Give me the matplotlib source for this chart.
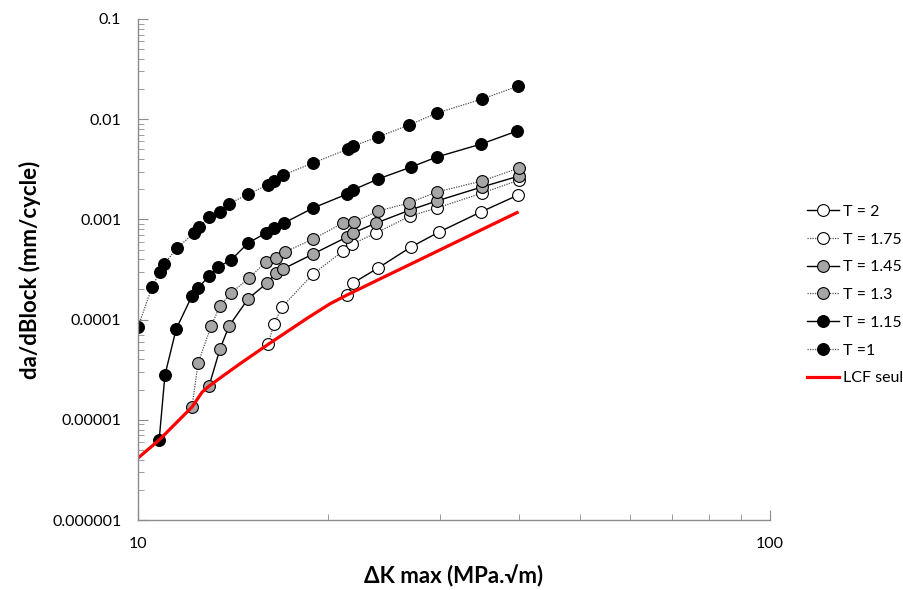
import matplotlib

matplotlib.use('Agg')
import matplotlib.pyplot as plt
from matplotlib.ticker import FuncFormatter, LogLocator, NullFormatter

plt.rcParams['font.family'] = ['Lato', 'DejaVu Sans']

# T = 2 (solid, white markers)
dk_t2 = [21.41, 21.89, 23.97, 27.04, 29.94, 34.90, 39.94]
da_t2 = [1.76e-4, 2.32e-4, 3.27e-4, 5.31e-4, 7.48e-4, 1.19e-3, 1.75e-3]

# T = 1.75 (dotted, white markers)
dk_t175 = [16.06, 16.41, 16.90, 18.92, 21.11, 21.81, 23.80, 26.94, 29.72, 35.03, 40.08]
da_t175 = [5.71e-5, 9.04e-5, 1.34e-4, 2.85e-4, 4.84e-4, 5.68e-4, 7.32e-4, 1.08e-3,
           1.30e-3, 1.83e-3, 2.47e-3]

# T = 1.45 (solid, grey markers)
dk_t145 = [12.95, 13.48, 13.93, 14.93, 16.00, 16.53, 16.96, 18.92, 21.41, 21.89,
           23.80, 26.94, 29.72, 35.03, 40.08]
da_t145 = [2.17e-5, 5.09e-5, 8.63e-5, 1.61e-4, 2.32e-4, 2.92e-4, 3.20e-4, 4.52e-4,
           6.67e-4, 7.32e-4, 9.20e-4, 1.24e-3, 1.53e-3, 2.11e-3, 2.71e-3]

# T = 1.3 (dotted, grey markers)
dk_t13 = [12.17, 12.45, 13.05, 13.48, 14.03, 14.98, 15.94, 16.53, 17.08, 18.92,
          21.11, 21.97, 23.97, 26.84, 29.72, 35.03, 40.08]
da_t13 = [1.34e-5, 3.69e-5, 8.63e-5, 1.37e-4, 1.84e-4, 2.60e-4, 3.76e-4, 4.12e-4,
          4.73e-4, 6.37e-4, 9.20e-4, 9.42e-4, 1.21e-3, 1.46e-3, 1.88e-3, 2.42e-3, 3.26e-3]

# T = 1.15 (solid, black markers)
dk_t115 = [10.80, 11.03, 11.49, 12.17, 12.45, 12.95, 13.39, 14.03, 14.93, 15.94,
           16.41, 17.02, 18.92, 21.41, 21.89, 23.97, 27.04, 29.72, 34.90, 39.79]
da_t115 = [6.29e-6, 2.80e-5, 8.05e-5, 1.72e-4, 2.07e-4, 2.72e-4, 3.35e-4, 3.93e-4,
           5.81e-4, 7.32e-4, 8.21e-4, 9.20e-4, 1.30e-3, 1.79e-3, 1.97e-3, 2.53e-3,
           3.33e-3, 4.20e-3, 5.65e-3, 7.62e-3]

# T = 1 (dotted, black markers)
dk_t1 = [10.0, 10.52, 10.83, 11.0, 11.53, 12.26, 12.49, 12.95, 13.48, 13.93, 14.93,
         16.06, 16.41, 16.96, 18.92, 21.49, 21.89, 23.97, 26.84, 29.72, 35.03, 39.94]
da_t1 = [8.43e-5, 2.11e-4, 2.99e-4, 3.59e-4, 5.19e-4, 7.32e-4, 8.40e-4, 1.057e-3,
         1.19e-3, 1.43e-3, 1.79e-3, 2.21e-3, 2.42e-3, 2.77e-3, 3.66e-3, 5.04e-3,
         5.40e-3, 6.65e-3, 8.75e-3, 1.153e-2, 1.59e-2, 2.14e-2]

# LCF seul
dk_lcf = [10.0, 10.80, 12.17, 12.63, 12.95, 13.70, 14.50, 16.06, 18.51, 20.13,
          21.41, 22.50, 24.15, 27.00, 30.00, 35.00, 39.79]
da_lcf = [4.16e-6, 6.29e-6, 1.34e-5, 1.89e-5, 2.17e-5, 2.81e-5, 3.63e-5, 5.66e-5,
          1.03e-4, 1.44e-4, 1.76e-4, 2.05e-4, 2.55e-4, 3.58e-4, 4.94e-4, 7.92e-4, 1.17e-3]

dot = (0, (1, 1))
series = [
    (dk_t2, da_t2, 'T = 2', '-', 'white'),
    (dk_t175, da_t175, 'T = 1.75', dot, 'white'),
    (dk_t145, da_t145, 'T = 1.45', '-', '#a6a6a6'),
    (dk_t13, da_t13, 'T = 1.3', dot, '#a6a6a6'),
    (dk_t115, da_t115, 'T = 1.15', '-', 'black'),
    (dk_t1, da_t1, 'T =1', dot, 'black'),
]

fig = plt.figure(figsize=(9.04, 5.90), dpi=100)
ax = fig.add_axes([0.1527, 0.1186, 0.6991, 0.8492])

for x, y, lab, ls, fc in series:
    lc = 'black' if ls == '-' else '#505050'
    ax.plot(x, y, linestyle=ls, color=lc, lw=1.0 if ls == '-' else 0.9,
            marker='o', markersize=8.5, markerfacecolor=fc,
            markeredgecolor='black', markeredgewidth=0.8, label=lab)

ax.plot(dk_lcf, da_lcf, color='#ff0000', lw=2.3, label='LCF seul')

ax.set_xscale('log')
ax.set_yscale('log')
ax.set_xlim(10, 100)
ax.set_ylim(1e-6, 0.1)

def dec_fmt(v, pos):
    s = '%.6f' % v
    s = s.rstrip('0').rstrip('.')
    return s

ax.yaxis.set_major_formatter(FuncFormatter(dec_fmt))
ax.xaxis.set_major_formatter(FuncFormatter(dec_fmt))
ax.yaxis.set_minor_locator(LogLocator(base=10, subs=range(2, 10), numticks=20))
ax.xaxis.set_minor_locator(LogLocator(base=10, subs=range(2, 10), numticks=20))
ax.yaxis.set_minor_formatter(NullFormatter())
ax.xaxis.set_minor_formatter(NullFormatter())

for s in ['top', 'right']:
    ax.spines[s].set_visible(False)
for s in ['left', 'bottom']:
    ax.spines[s].set_color('#8c8c8c')
    ax.spines[s].set_linewidth(1.0)

ax.tick_params(which='major', direction='in', length=7, color='#8c8c8c',
               labelsize=11.5, pad=12)
ax.tick_params(which='minor', direction='in', length=4, color='#8c8c8c')

ax.set_xlabel('ΔK max (MPa.√m)', fontsize=16, fontweight='bold', labelpad=10)
ax.set_ylabel('da/dBlock (mm/cycle)', fontsize=16, fontweight='bold', labelpad=8)

ax.legend(loc='center left', bbox_to_anchor=(0.886, 0.5), bbox_transform=fig.transFigure,
          frameon=False, fontsize=11.5, handlelength=2.0, handletextpad=0.25,
          labelspacing=0.85, borderaxespad=0)

fig.savefig('out.png', dpi=100)
